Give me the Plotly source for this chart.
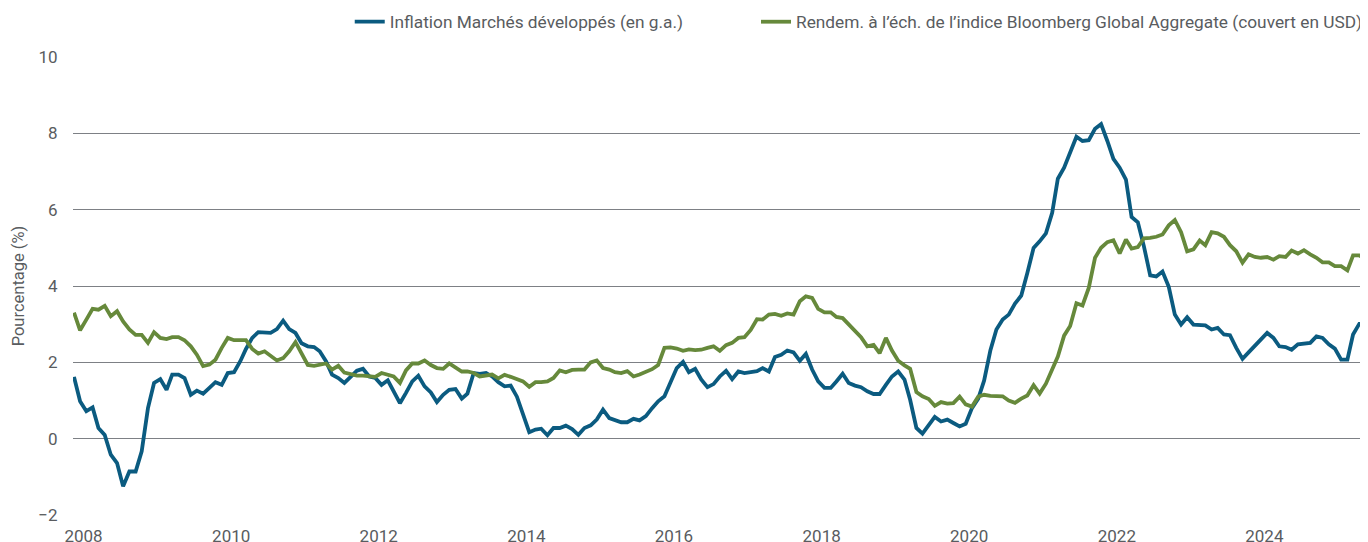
import pandas as pd
import plotly.graph_objects as go

# Monthly observations from Nov 2007 to Jun 2025
start_month = "2007-11"

inflation = [
    # 2007 (Nov, Dec)
    1.62, 0.98,
    # 2008
    0.72, 0.82, 0.28, 0.10, -0.42, -0.64, -1.25, -0.86, -0.86, -0.33, 0.80, 1.46,
    # 2009
    1.56, 1.28, 1.68, 1.68, 1.59, 1.15, 1.26, 1.18, 1.33, 1.48, 1.41, 1.72,
    # 2010
    1.74, 2.03, 2.35, 2.64, 2.79, 2.77, 2.77, 2.87, 3.09, 2.87, 2.77, 2.50,
    # 2011
    2.42, 2.40, 2.29, 2.03, 1.68, 1.59, 1.46, 1.62, 1.78, 1.83, 1.63, 1.59,
    # 2012
    1.41, 1.53, 1.24, 0.93, 1.20, 1.50, 1.65, 1.37, 1.21, 0.96, 1.15, 1.28,
    # 2013
    1.30, 1.05, 1.18, 1.72, 1.70, 1.72, 1.63, 1.48, 1.37, 1.39, 1.10, 0.65,
    # 2014
    0.17, 0.24, 0.26, 0.09, 0.28, 0.28, 0.34, 0.25, 0.10, 0.28, 0.35, 0.50,
    # 2015
    0.76, 0.54, 0.48, 0.43, 0.43, 0.52, 0.48, 0.59, 0.80, 0.98, 1.11, 1.46,
    # 2016
    1.85, 2.01, 1.74, 1.83, 1.55, 1.35, 1.43, 1.63, 1.78, 1.56, 1.76, 1.72,
    # 2017
    1.75, 1.77, 1.85, 1.76, 2.14, 2.20, 2.31, 2.26, 2.04, 2.22, 1.81, 1.50,
    # 2018
    1.33, 1.33, 1.50, 1.70, 1.46, 1.39, 1.35, 1.24, 1.17, 1.17, 1.41, 1.63,
    # 2019
    1.76, 1.55, 1.02, 0.28, 0.13, 0.37, 0.57, 0.45, 0.50, 0.41, 0.32, 0.39,
    # 2020
    0.80, 1.05, 1.52, 2.31, 2.86, 3.12, 3.25, 3.54, 3.75, 4.34, 5.00, 5.17,
    # 2021
    5.38, 5.92, 6.81, 7.10, 7.47, 7.91, 7.80, 7.82, 8.12, 8.24, 7.80, 7.33,
    # 2022
    7.10, 6.79, 5.81, 5.67, 5.04, 4.28, 4.25, 4.38, 3.98, 3.25, 2.99, 3.18,
    # 2023
    2.99, 2.97, 2.97, 2.86, 2.90, 2.73, 2.71, 2.38, 2.09, 2.26, 2.44, 2.61,
    # 2024
    2.77, 2.64, 2.42, 2.40, 2.33, 2.47, 2.48, 2.51, 2.68, 2.64, 2.47, 2.36,
    # 2025
    2.07, 2.07, 2.73, 3.01, 3.01, 3.00,
]

yield_to_worst = [
    # 2007 (Nov, Dec)
    3.30, 2.84,
    # 2008
    3.12, 3.40, 3.38, 3.48, 3.21, 3.34, 3.07, 2.86, 2.72, 2.72, 2.51, 2.79,
    # 2009
    2.64, 2.61, 2.66, 2.66, 2.58, 2.42, 2.20, 1.90, 1.94, 2.07, 2.38, 2.64,
    # 2010
    2.58, 2.58, 2.58, 2.35, 2.23, 2.29, 2.16, 2.05, 2.11, 2.29, 2.53, 2.24,
    # 2011
    1.93, 1.91, 1.95, 1.97, 1.81, 1.91, 1.73, 1.68, 1.65, 1.65, 1.63, 1.62,
    # 2012
    1.72, 1.68, 1.63, 1.46, 1.79, 1.97, 1.97, 2.05, 1.93, 1.85, 1.83, 1.97,
    # 2013
    1.85, 1.76, 1.76, 1.72, 1.63, 1.65, 1.68, 1.58, 1.67, 1.62, 1.55, 1.50,
    # 2014
    1.36, 1.48, 1.48, 1.50, 1.59, 1.79, 1.74, 1.80, 1.81, 1.81, 2.00, 2.05,
    # 2015
    1.85, 1.81, 1.74, 1.72, 1.77, 1.63, 1.68, 1.75, 1.82, 1.93, 2.38, 2.39,
    # 2016
    2.36, 2.30, 2.34, 2.32, 2.33, 2.38, 2.42, 2.30, 2.45, 2.51, 2.64, 2.66,
    # 2017
    2.85, 3.13, 3.12, 3.25, 3.27, 3.22, 3.28, 3.25, 3.60, 3.73, 3.69, 3.40,
    # 2018
    3.31, 3.31, 3.19, 3.16, 2.99, 2.81, 2.66, 2.42, 2.46, 2.24, 2.64, 2.31,
    # 2019
    2.04, 1.92, 1.83, 1.22, 1.11, 1.04, 0.86, 0.96, 0.92, 0.93, 1.10, 0.90,
    # 2020
    0.84, 1.10, 1.15, 1.12, 1.11, 1.11, 1.00, 0.94, 1.05, 1.13, 1.40, 1.18,
    # 2021
    1.44, 1.80, 2.15, 2.70, 2.95, 3.55, 3.49, 3.95, 4.74, 5.00, 5.15, 5.20,
    # 2022
    4.85, 5.22, 4.98, 5.02, 5.25, 5.26, 5.29, 5.35, 5.59, 5.73, 5.41, 4.91,
    # 2023
    4.96, 5.19, 5.07, 5.41, 5.38, 5.29, 5.07, 4.91, 4.61, 4.83, 4.76, 4.74,
    # 2024
    4.76, 4.69, 4.78, 4.76, 4.93, 4.85, 4.94, 4.83, 4.74, 4.62, 4.62, 4.52,
    # 2025
    4.52, 4.41, 4.80, 4.80, 4.72, 4.70,
]

series_names = [
    "Inflation Marchés développés (en g.a.)",
    "Rendem. à l’éch. de l’indice Bloomberg Global Aggregate (couvert en USD)",
]
series_colors = ["#0b5b80", "#66893b"]

tick_years = [2008, 2010, 2012, 2014, 2016, 2018, 2020, 2022, 2024]
y_ticks = [-2, 0, 2, 4, 6, 8, 10]
y_title = "Pourcentage (%)"

dates = pd.date_range(start=start_month, periods=len(inflation), freq="MS") + pd.Timedelta(days=14)

FONT = "Roboto, sans-serif"
TXT = "#595c60"

fig = go.Figure()
legend_ids = ["legend", "legend2"]
for name, vals, col, lg in zip(series_names, [inflation, yield_to_worst], series_colors, legend_ids):
    fig.add_trace(go.Scatter(
        x=dates, y=vals, name=name, mode="lines",
        line=dict(color=col, width=3.8), legend=lg,
    ))

legend_common = dict(
    orientation="h", y=1.0765, yanchor="middle",
    font=dict(family=FONT, size=17.3, color=TXT),
    bgcolor="rgba(0,0,0,0)",
)

# The page body keeps an 8px default margin, so the figure is 8px smaller
fig.update_layout(
    width=1360, height=534,
    margin=dict(l=65, r=0, t=49, b=27, autoexpand=False),
    paper_bgcolor="white", plot_bgcolor="white",
    font=dict(family=FONT, size=17, color=TXT),
    showlegend=True,
    legend=dict(x=0.2137, xanchor="left", **legend_common),
    legend2=dict(x=1.0, xanchor="right", **legend_common),
)
fig.update_xaxes(
    type="date",
    range=["2007-11-10", "2025-05-28"],
    tickvals=[pd.Timestamp(f"{y}-01-01") for y in tick_years],
    ticktext=[str(y) for y in tick_years],
    showgrid=False, zeroline=False, showline=False,
    ticks="outside", ticklen=6, tickcolor="rgba(0,0,0,0)",
    tickfont=dict(family=FONT, size=17, color=TXT),
    automargin=False,
)
fig.update_yaxes(
    range=[-2, 10],
    tickvals=y_ticks,
    showgrid=True, gridcolor="#7d8085", gridwidth=1,
    zeroline=False, showline=False,
    ticks="outside", ticklen=11, tickcolor="rgba(0,0,0,0)",
    tickfont=dict(family=FONT, size=17, color=TXT),
    title=dict(text=y_title, font=dict(family=FONT, size=16.5, color=TXT), standoff=9),
    automargin=False,
)

fig.write_html("out.html")
